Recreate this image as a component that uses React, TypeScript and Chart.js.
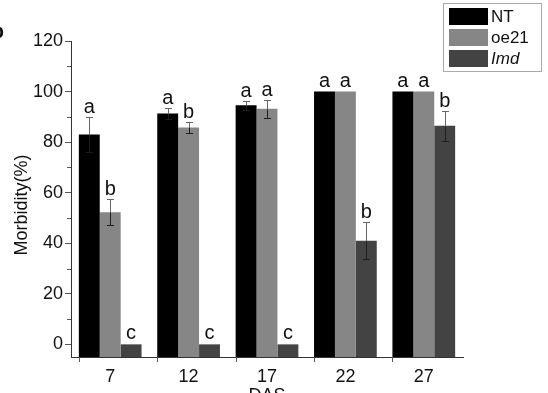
import React, { useEffect, useRef } from 'react';
import { Chart, registerables } from 'chart.js';

Chart.register(...registerables);

const categories = ['7', '12', '17', '22', '27'];
const seriesNames = ['NT', 'oe21', 'Imd'];
const seriesColors = ['#000000', '#868686', '#434343'];
const ntValues = [83, 91.3, 94.6, 100, 100];
const ntErrors = [7, 2, 1.8, 0, 0];
const oe21Values = [52.3, 85.8, 93.2, 100, 100];
const oe21Errors = [5.2, 2, 3.6, 0, 0];
const imdValues = [0, 0, 0, 41, 86.5];
const imdErrors = [0, 0, 0, 7.3, 6];
const ntLetters = ['a', 'a', 'a', 'a', 'a'];
const oe21Letters = ['b', 'b', 'a', 'a', 'a'];
const imdLetters = ['c', 'c', 'c', 'b', 'b'];
const yTicks = [0, 20, 40, 60, 80, 100, 120];
const yMinorTicks = [10, 30, 50, 70, 90, 110];
const yMin = -5;
const yMax = 120;
const xTitle = 'DAS';
const yTitle = 'Morbidity(%)';
const panelLetter = 'b';

const seriesValues = [ntValues, oe21Values, imdValues];
const seriesErrors = [ntErrors, oe21Errors, imdErrors];
const seriesLetters = [ntLetters, oe21Letters, imdLetters];

const FONT = '"Liberation Sans", Arial, sans-serif';

const decorPlugin = {
  id: 'decor',
  afterDatasetsDraw(chart: any) {
    const ctx = chart.ctx;
    const ys = chart.scales.y;
    ctx.save();
    seriesValues.forEach((vals, di) => {
      const meta = chart.getDatasetMeta(di);
      meta.data.forEach((bar: any, i: number) => {
        const v = vals[i];
        const e = seriesErrors[di][i];
        const cx = Math.round(bar.x) + 0.5;
        let topPx = ys.getPixelForValue(v);
        if (e > 0) {
          const t = Math.round(ys.getPixelForValue(v + e)) + 0.5;
          const m = Math.round(ys.getPixelForValue(v)) + 0.5;
          const b = Math.round(ys.getPixelForValue(v - e)) + 0.5;
          ctx.lineWidth = 1;
          ctx.strokeStyle = '#666666';
          ctx.beginPath();
          ctx.moveTo(cx, t);
          ctx.lineTo(cx, m);
          ctx.moveTo(cx - 3.5, t);
          ctx.lineTo(cx + 3.5, t);
          ctx.stroke();
          ctx.strokeStyle = '#1e1e1e';
          ctx.beginPath();
          ctx.moveTo(cx, m);
          ctx.lineTo(cx, b);
          ctx.moveTo(cx - 3.5, b);
          ctx.lineTo(cx + 3.5, b);
          ctx.stroke();
          topPx = t;
        }
        ctx.fillStyle = '#111111';
        ctx.font = `20px ${FONT}`;
        ctx.textAlign = 'center';
        ctx.textBaseline = 'alphabetic';
        ctx.fillText(seriesLetters[di][i], bar.x, topPx - 5);
      });
    });
    ctx.restore();
  },
  afterDraw(chart: any) {
    const ctx = chart.ctx;
    const ys = chart.scales.y;
    const area = chart.chartArea;
    ctx.save();
    ctx.strokeStyle = '#555555';
    ctx.lineWidth = 1;
    ctx.beginPath();
    yMinorTicks.forEach((v) => {
      const p = Math.round(ys.getPixelForValue(v)) + 0.5;
      ctx.moveTo(area.left - 4, p);
      ctx.lineTo(area.left, p);
    });
    const meta0 = chart.getDatasetMeta(0);
    meta0.data.forEach((bar: any) => {
      const xe = Math.round(bar.x - bar.width / 2) + 0.5;
      ctx.moveTo(xe, area.bottom);
      ctx.lineTo(xe, area.bottom + 5);
    });
    ctx.stroke();

    ctx.fillStyle = '#111111';
    ctx.font = `18px ${FONT}`;
    ctx.textAlign = 'center';
    ctx.textBaseline = 'top';
    ctx.fillText(xTitle, (area.left + area.right) / 2, 387);
    ctx.save();
    ctx.translate(22, (area.top + area.bottom) / 2 + 6);
    ctx.rotate(-Math.PI / 2);
    ctx.textBaseline = 'middle';
    ctx.fillText(yTitle, 0, 0);
    ctx.restore();

    ctx.font = `bold 20px ${FONT}`;
    ctx.textAlign = 'right';
    ctx.textBaseline = 'alphabetic';
    ctx.fillText(panelLetter, 4, 38);

    ctx.fillStyle = '#ffffff';
    ctx.fillRect(443, 3, 99, 69);
    ctx.strokeStyle = '#aaaaaa';
    ctx.strokeRect(443.5, 3.5, 98, 68);
    const rowTops = [8, 29, 50];
    seriesNames.forEach((name, i) => {
      ctx.fillStyle = seriesColors[i];
      ctx.fillRect(449, rowTops[i], 39, 17);
      ctx.fillStyle = '#111111';
      ctx.font = (i === 2 ? 'italic ' : '') + `17px ${FONT}`;
      ctx.textAlign = 'left';
      ctx.textBaseline = 'middle';
      ctx.fillText(name, 491, rowTops[i] + 9);
    });
    ctx.restore();
  },
};

export default function App() {
  const ref = useRef<HTMLCanvasElement | null>(null);
  useEffect(() => {
    if (!ref.current) return;
    const chart = new Chart(ref.current, {
      type: 'bar',
      data: {
        labels: categories,
        datasets: seriesNames.map((name, i) => ({
          label: name,
          data: seriesValues[i],
          backgroundColor: seriesColors[i],
          borderWidth: 0,
          base: yMin,
          categoryPercentage: 0.8,
          barPercentage: 1,
        })),
      },
      options: {
        responsive: false,
        animation: false,
        devicePixelRatio: 1,
        layout: { padding: { top: 41, right: 85, left: 0, bottom: 0 } },
        plugins: { legend: { display: false }, tooltip: { enabled: false }, title: { display: false } },
        scales: {
          x: {
            type: 'category',
            offset: true,
            grid: { display: false, drawTicks: false, tickLength: 0 },
            border: { display: true, color: '#333333', width: 1 },
            ticks: { color: '#111111', font: { family: FONT, size: 18 }, padding: 9, maxRotation: 0, autoSkip: false },
            afterFit: (s: any) => { s.height = 36; },
          },
          y: {
            type: 'linear',
            min: yMin,
            max: yMax,
            afterBuildTicks: (s: any) => { s.ticks = yTicks.map((v) => ({ value: v })); },
            grid: { display: true, drawOnChartArea: false, drawTicks: true, tickLength: 6, color: '#555555' },
            border: { display: true, color: '#333333', width: 1 },
            ticks: { color: '#111111', font: { family: FONT, size: 18 }, padding: 2 },
            afterFit: (s: any) => { s.width = 71; },
          },
        },
      },
      plugins: [decorPlugin],
    } as any);
    return () => chart.destroy();
  }, []);
  return (
    <div style={{ position: 'fixed', left: 0, top: 0, width: 548, height: 393, background: '#fff' }}>
      <canvas ref={ref} width={548} height={393} style={{ display: 'block' }} />
    </div>
  );
}
